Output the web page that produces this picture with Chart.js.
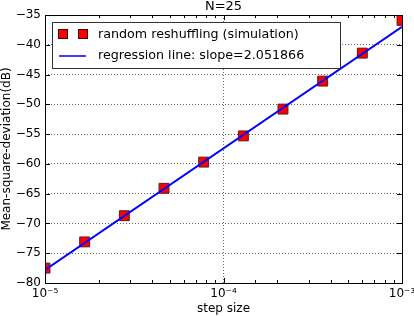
<!DOCTYPE html>
<html lang="en">
<head>
    <meta charset="UTF-8">
    <title>N=25</title>
    <script src="https://cdn.jsdelivr.net/npm/chart.js"></script>
    <style>
        body { margin: 0; padding: 0; background: white; }
        .chart-box { width: 414px; height: 316px; }
    </style>
</head>
<body>
    <div class="chart-box"><canvas id="msdChart"></canvas></div>

    <script>
        // data
        const stepSizes = [1e-5, 1.668e-5, 2.783e-5, 4.642e-5, 7.743e-5, 1.292e-4, 2.154e-4, 3.594e-4, 5.995e-4, 1e-3];
        const msdValues = [-77.5, -73.1, -68.7, -64.1, -59.7, -55.3, -50.8, -46.1, -41.4, -35.9];
        const lineX = [1e-5, 1e-3];
        const lineY = [-77.8, -37.0];
        const simLabel = 'random reshuffling (simulation)';
        const lineLabel = 'regression line: slope=2.051866';

        const FONT = 'DejaVu Sans';
        const sup = { '-': '\u207B', '0': '\u2070', '1': '\u00B9', '2': '\u00B2', '3': '\u00B3', '4': '\u2074', '5': '\u2075' };
        const isDecade = v => Math.abs(Math.log10(v) - Math.round(Math.log10(v))) < 1e-6;

        // frame, inward ticks, title, legend
        const decor = {
            id: 'decor',
            afterDatasetsDraw(chart) {
                const { ctx, chartArea: a, scales } = chart;
                ctx.save();
                ctx.strokeStyle = '#000';
                ctx.lineWidth = 1;
                ctx.beginPath();
                scales.x.ticks.forEach(t => {
                    const px = Math.round(scales.x.getPixelForValue(t.value)) + 0.5;
                    const len = isDecade(t.value) ? 5 : 3;
                    ctx.moveTo(px, a.bottom); ctx.lineTo(px, a.bottom - len);
                    ctx.moveTo(px, a.top); ctx.lineTo(px, a.top + len);
                });
                scales.y.ticks.forEach(t => {
                    const py = Math.round(scales.y.getPixelForValue(t.value)) + 0.5;
                    ctx.moveTo(a.left, py); ctx.lineTo(a.left + 5, py);
                    ctx.moveTo(a.right, py); ctx.lineTo(a.right - 5, py);
                });
                ctx.stroke();
                ctx.strokeRect(Math.round(a.left) + 0.5, Math.round(a.top) + 0.5, Math.round(a.right - a.left), Math.round(a.bottom - a.top));

                // title
                ctx.fillStyle = '#000';
                ctx.font = '13px ' + FONT;
                ctx.textAlign = 'center';
                ctx.textBaseline = 'middle';
                ctx.fillText('N=25', (a.left + a.right) / 2, 7);

                // legend
                const lx = 52, ly = 22, lw = 288, lh = 46;
                ctx.fillStyle = '#fff';
                ctx.fillRect(lx, ly, lw, lh);
                ctx.strokeStyle = '#333';
                ctx.strokeRect(lx + 0.5, ly + 0.5, lw, lh);
                ctx.fillStyle = 'red';
                ctx.strokeStyle = '#400';
                [63, 83].forEach(cx => {
                    ctx.fillRect(cx - 5, 34 - 5, 10, 10);
                    ctx.strokeRect(cx - 5 + 0.5, 34 - 5 + 0.5, 9, 9);
                });
                ctx.strokeStyle = '#0000ff';
                ctx.lineWidth = 1.5;
                ctx.beginPath();
                ctx.moveTo(59, 56); ctx.lineTo(86, 56);
                ctx.stroke();
                ctx.fillStyle = '#000';
                ctx.textAlign = 'left';
                ctx.font = '12.7px ' + FONT;
                ctx.fillText(simLabel, 98, 35);
                ctx.fillText(lineLabel, 98, 56);
                ctx.restore();
            }
        };

        new Chart(document.getElementById('msdChart'), {
            type: 'scatter',
            data: {
                datasets: [
                    {
                        label: lineLabel,
                        type: 'line',
                        data: lineX.map((x, i) => ({ x: x, y: lineY[i] })),
                        borderColor: '#0000ff',
                        borderWidth: 2,
                        pointRadius: 0,
                        showLine: true,
                        clip: 0,
                        order: 0
                    },
                    {
                        label: simLabel,
                        data: stepSizes.map((x, i) => ({ x: x, y: msdValues[i] })),
                        pointStyle: 'rect',
                        pointRadius: 7,
                        pointBackgroundColor: 'red',
                        pointBorderColor: '#5a1a1a',
                        pointBorderWidth: 1,
                        clip: 0,
                        order: 1
                    }
                ]
            },
            options: {
                responsive: true,
                maintainAspectRatio: false,
                animation: false,
                layout: { padding: { top: 15, right: 12, left: 0, bottom: 0 } },
                plugins: {
                    legend: { display: false },
                    tooltip: { enabled: false }
                },
                scales: {
                    x: {
                        type: 'logarithmic',
                        min: 1e-5,
                        max: 1e-3,
                        afterFit: s => { s.height = 33; s.paddingLeft = 0; s.paddingRight = 0; },
                        border: { display: false, dash: [1, 2] },
                        grid: {
                            drawTicks: false,
                            color: c => (c.tick && isDecade(c.tick.value)) ? 'rgba(0,0,0,0.6)' : 'rgba(0,0,0,0)',
                            lineWidth: 1
                        },
                        ticks: {
                            autoSkip: false,
                            maxRotation: 0,
                            padding: 4,
                            color: '#000',
                            font: { family: FONT, size: 12 },
                            callback: v => {
                                if (!isDecade(v)) return '';
                                const e = String(Math.round(Math.log10(v)));
                                return '10' + e.split('').map(ch => sup[ch]).join('');
                            }
                        },
                        title: {
                            display: true,
                            text: 'step size',
                            color: '#000',
                            padding: { top: 0, bottom: 0 },
                            font: { family: FONT, size: 12 }
                        }
                    },
                    y: {
                        min: -80,
                        max: -35,
                        afterFit: s => { s.width = 45; },
                        border: { display: false, dash: [1, 2] },
                        grid: {
                            drawTicks: false,
                            color: 'rgba(0,0,0,0.6)',
                            lineWidth: 1
                        },
                        ticks: {
                            stepSize: 5,
                            padding: 4,
                            color: '#000',
                            font: { family: FONT, size: 12 },
                            callback: v => String(v).replace('-', '\u2212')
                        },
                        title: {
                            display: true,
                            text: 'Mean-square-deviation(dB)',
                            color: '#000',
                            padding: { top: 0, bottom: 0 },
                            font: { family: FONT, size: 12 }
                        }
                    }
                }
            },
            plugins: [decor]
        });
    </script>
</body>
</html>
